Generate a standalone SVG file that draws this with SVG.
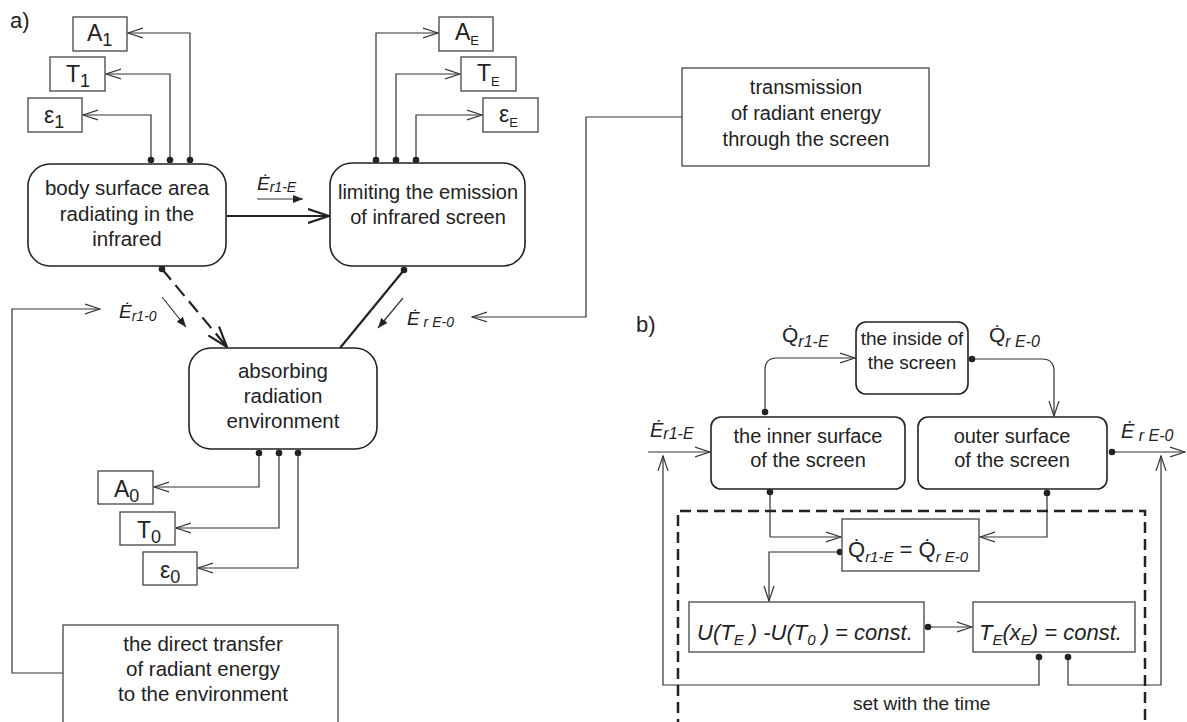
<svg xmlns="http://www.w3.org/2000/svg" width="1187" height="722" viewBox="0 0 1187 722">
<style>
text{font-family:"Liberation Sans",Arial,sans-serif;fill:#222}
.t{font-size:20.5px;text-anchor:middle}
.tb{font-size:20px;text-anchor:middle}
.ts{font-size:20.5px;text-anchor:middle}
.it{font-style:italic}
.rb{fill:#fff;stroke:#222;stroke-width:1.6}
.bx{fill:#fff;stroke:#444;stroke-width:1.3}
.c{fill:none;stroke:#333;stroke-width:1.2}
.ck{fill:none;stroke:#222;stroke-width:2.2}
.sym{font-size:23px}
</style>
<defs>
<marker id="op" viewBox="0 0 16 12" refX="15" refY="6" markerWidth="16" markerHeight="12" markerUnits="userSpaceOnUse" orient="auto"><path d="M0,1 L15,6 L0,11" fill="none" stroke="#333" stroke-width="1.2"/></marker>
<marker id="opk" viewBox="0 0 22 16" refX="21" refY="8" markerWidth="22" markerHeight="16" markerUnits="userSpaceOnUse" orient="auto"><path d="M0,1 L21,8 L0,15" fill="none" stroke="#222" stroke-width="2.2"/></marker>
<marker id="fa" viewBox="0 0 10 8" refX="10" refY="4" markerWidth="10" markerHeight="8" markerUnits="userSpaceOnUse" orient="auto"><path d="M0,0 L10,4 L0,8 z" fill="#222"/></marker>
<marker id="dt" viewBox="0 0 8 8" refX="4" refY="4" markerWidth="8" markerHeight="8" markerUnits="userSpaceOnUse"><circle cx="4" cy="4" r="3.3" fill="#222"/></marker>
</defs>

<text x="10" y="28" style="font-size:22px">a)</text>
<text x="636" y="332" style="font-size:22px">b)</text>

<g id="connectors">
<path class="c" d="M190,160 V33 H128" marker-start="url(#dt)" marker-end="url(#op)"/>
<path class="c" d="M170,160 V74 H106" marker-start="url(#dt)" marker-end="url(#op)"/>
<path class="c" d="M151,160 V115 H83" marker-start="url(#dt)" marker-end="url(#op)"/>
<path class="c" d="M376,160 V33 H438" marker-start="url(#dt)" marker-end="url(#op)"/>
<path class="c" d="M396,160 V74 H460" marker-start="url(#dt)" marker-end="url(#op)"/>
<path class="c" d="M416,160 V115 H482" marker-start="url(#dt)" marker-end="url(#op)"/>
<path class="ck" d="M227,216 H329" marker-end="url(#opk)"/>
<path class="ck" d="M162,269 L227,347" stroke-width="3" stroke-dasharray="14,7" marker-start="url(#dt)" marker-end="url(#opk)"/>
<path class="ck" d="M404,270 L340,348" marker-start="url(#dt)"/>
<path class="c" d="M259,453 V487 H154" marker-start="url(#dt)" marker-end="url(#op)"/>
<path class="c" d="M279,453 V528 H176" marker-start="url(#dt)" marker-end="url(#op)"/>
<path class="c" d="M298,453 V568 H198" marker-start="url(#dt)" marker-end="url(#op)"/>
<path class="c" d="M63,673 H12 V309 H100" marker-end="url(#op)"/>
<path class="c" d="M682,117 H586 V317 H472" marker-end="url(#op)"/>
<path class="c" d="M257,199 H303" marker-end="url(#fa)"/>
<path class="c" d="M162,297 L186,327" marker-end="url(#fa)"/>
<path class="c" d="M403,298 L378,328" marker-end="url(#fa)"/>

<path class="c" d="M765,412 V370 Q765,358 777,358 H855" marker-start="url(#dt)" marker-end="url(#op)"/>
<path class="c" d="M972,359 H1042 Q1054,359 1054,371 V416" marker-start="url(#dt)" marker-end="url(#op)"/>
<path class="c" d="M648,452 H710" marker-end="url(#op)"/>
<path class="c" d="M1112,452 H1185" marker-start="url(#dt)" marker-end="url(#op)"/>
<path class="c" d="M770,492 V537 H841" marker-start="url(#dt)" marker-end="url(#op)"/>
<path class="c" d="M1047,493 V537 H980" marker-start="url(#dt)" marker-end="url(#op)"/>
<path class="c" d="M840,552 H769 V601" marker-start="url(#dt)" marker-end="url(#op)"/>
<path class="c" d="M928,627 H972" marker-start="url(#dt)" marker-end="url(#op)"/>
<path class="c" d="M1039,657 V685 H663 V456" marker-start="url(#dt)" marker-end="url(#op)"/>
<path class="c" d="M1068,657 V685 H1161 V456" marker-start="url(#dt)" marker-end="url(#op)"/>
<path d="M678,730 V511 H1145 V730" fill="none" stroke="#222" stroke-width="2.5" stroke-dasharray="11,6"/>
</g>

<g id="lbl-a">
<text x="257" y="190" class="it" style="font-size:19px">Ė<tspan style="font-size:14px" dy="2">r1-E</tspan></text>
<text x="119" y="318" class="it" style="font-size:19px">Ė<tspan style="font-size:14px" dy="3">r1-0</tspan></text>
<text x="407" y="325" class="it" style="font-size:19px">Ė<tspan style="font-size:14px" dy="2"> r E-0</tspan></text>
</g>

<g id="body"><rect class="rb" x="28" y="164" width="198" height="102" rx="22"/>
<text class="t" x="127" y="195">body surface area</text><text class="t" x="127" y="221">radiating in the</text><text class="t" x="127" y="246">infrared</text></g>
<g id="limiting"><rect class="rb" x="330" y="163" width="195" height="103" rx="22"/>
<text class="tb" x="428" y="199">limiting the emission</text><text class="tb" x="428" y="224">of infrared screen</text></g>
<g id="absorbing"><rect class="rb" x="189" y="348" width="188" height="101" rx="22"/>
<text class="t" x="283" y="378">absorbing</text><text class="t" x="283" y="403">radiation</text><text class="t" x="283" y="428">environment</text></g>

<g id="A1"><rect class="bx" x="73" y="17" width="54" height="34"/><text x="87" y="41" class="sym">A<tspan style="font-size:18px" dy="5">1</tspan></text></g>
<g id="T1"><rect class="bx" x="50" y="57" width="55" height="34"/><text x="66" y="82" class="sym">T<tspan style="font-size:18px" dy="5">1</tspan></text></g>
<g id="e1"><rect class="bx" x="28" y="98" width="54" height="34"/><text x="44" y="123" class="sym">ε<tspan style="font-size:18px" dy="5">1</tspan></text></g>
<g id="AE"><rect class="bx" x="439" y="17" width="54" height="34"/><text x="455" y="40" class="sym">A<tspan style="font-size:13px" dy="5">E</tspan></text></g>
<g id="TE"><rect class="bx" x="461" y="57" width="55" height="34"/><text x="477" y="81" class="sym">T<tspan style="font-size:13px" dy="5">E</tspan></text></g>
<g id="eE"><rect class="bx" x="483" y="98" width="55" height="34"/><text x="499" y="122" class="sym">ε<tspan style="font-size:13px" dy="5">E</tspan></text></g>
<g id="A0"><rect class="bx" x="98" y="471" width="55" height="33"/><text x="114" y="497" class="sym">A<tspan style="font-size:18px" dy="5">0</tspan></text></g>
<g id="T0"><rect class="bx" x="120" y="512" width="55" height="33"/><text x="137" y="538" class="sym">T<tspan style="font-size:18px" dy="5">0</tspan></text></g>
<g id="e0"><rect class="bx" x="143" y="552" width="54" height="33"/><text x="160" y="578" class="sym">ε<tspan style="font-size:18px" dy="5">0</tspan></text></g>

<g id="direct"><rect class="bx" x="63" y="625" width="275" height="110"/>
<text class="ts" x="203" y="651">the direct transfer</text><text class="ts" x="203" y="676">of radiant energy</text><text class="ts" x="203" y="701">to the environment</text></g>
<g id="transmission"><rect class="bx" x="682" y="68" width="247" height="98"/>
<text class="tb" x="806" y="94">transmission</text><text class="tb" x="806" y="120">of radiant energy</text><text class="tb" x="806" y="146">through the screen</text></g>

<g id="lbl-b">
<text x="782" y="342" style="font-size:21px">Q̇<tspan class="it" style="font-size:16px" dy="5">r1-E</tspan></text>
<text x="989" y="342" style="font-size:21px">Q̇<tspan class="it" style="font-size:16px" dy="5">r E-0</tspan></text>
<text x="650" y="437" class="it" style="font-size:20px">Ė<tspan style="font-size:16px" dy="2">r1-E</tspan></text>
<text x="1121" y="438" class="it" style="font-size:20px">Ė<tspan style="font-size:16px" dy="3"> r E-0</tspan></text>
<text x="853" y="710" style="font-size:19px">set with the time</text>
</g>

<g id="inside"><rect class="rb" x="856" y="322" width="112" height="72" rx="10"/>
<text x="912" y="345" style="font-size:19px;text-anchor:middle">the inside of</text><text x="912" y="369" style="font-size:19px;text-anchor:middle">the screen</text></g>
<g id="inner"><rect class="rb" x="711" y="417" width="194" height="72" rx="10"/>
<text class="tb" x="808" y="443">the inner surface</text><text class="tb" x="808" y="467">of the screen</text></g>
<g id="outer"><rect class="rb" x="918" y="417" width="189" height="72" rx="10"/>
<text class="tb" x="1012" y="443">outer surface</text><text class="tb" x="1012" y="467">of the screen</text></g>
<g id="qeq"><rect class="bx" x="842" y="519" width="137" height="52"/>
<text x="848" y="557" style="font-size:22px">Q̇<tspan class="it" style="font-size:15px" dy="5">r1-E</tspan><tspan dy="-5"> = Q̇</tspan><tspan class="it" style="font-size:15px" dy="5">r E-0</tspan></text></g>
<g id="ueq"><rect class="bx" x="689" y="602" width="235" height="50"/>
<text x="697" y="640" class="it" style="font-size:22px">U(T<tspan style="font-size:15px" dy="5">E</tspan><tspan dy="-5"> ) -U(T</tspan><tspan style="font-size:15px" dy="5">0</tspan><tspan dy="-5"> ) = const.</tspan></text></g>
<g id="teq"><rect class="bx" x="973" y="602" width="162" height="50"/>
<text x="979" y="640" class="it" style="font-size:22px">T<tspan style="font-size:15px" dy="5">E</tspan><tspan dy="-5">(x</tspan><tspan style="font-size:15px" dy="5">E</tspan><tspan dy="-5">) = const.</tspan></text></g>
</svg>
